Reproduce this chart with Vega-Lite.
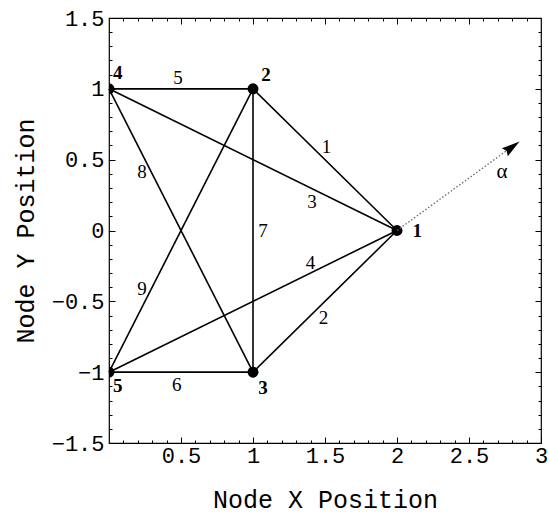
{
  "$schema": "https://vega.github.io/schema/vega-lite/v6.json",
  "width": 432,
  "height": 425,
  "autosize": {"type": "none"},
  "padding": {"left": 109, "top": 18, "right": 9, "bottom": 71},
  "background": "white",
  "config": {
    "view": {"stroke": "black", "strokeWidth": 1.2},
    "axis": {
      "domain": false,
      "grid": false,
      "tickColor": "black",
      "labelColor": "black",
      "labelFont": "Liberation Mono",
      "labelFontSize": 22,
      "titleFont": "Liberation Mono",
      "titleFontSize": 25,
      "titleFontWeight": "normal",
      "titleColor": "black"
    }
  },
  "datasets": {
    "members": [
      {"member": 1, "xa": 2, "ya": 0, "xb": 1, "yb": 1},
      {"member": 2, "xa": 2, "ya": 0, "xb": 1, "yb": -1},
      {"member": 3, "xa": 2, "ya": 0, "xb": 0, "yb": 1},
      {"member": 4, "xa": 2, "ya": 0, "xb": 0, "yb": -1},
      {"member": 5, "xa": 1, "ya": 1, "xb": 0, "yb": 1},
      {"member": 6, "xa": 1, "ya": -1, "xb": 0, "yb": -1},
      {"member": 7, "xa": 1, "ya": 1, "xb": 1, "yb": -1},
      {"member": 8, "xa": 1, "ya": -1, "xb": 0, "yb": 1},
      {"member": 9, "xa": 1, "ya": 1, "xb": 0, "yb": -1}
    ],
    "nodes": [
      {"node": "1", "x": 2, "y": 0, "lx": 2.14, "ly": 0.0},
      {"node": "2", "x": 1, "y": 1, "lx": 1.09, "ly": 1.1},
      {"node": "3", "x": 1, "y": -1, "lx": 1.07, "ly": -1.11},
      {"node": "4", "x": 0, "y": 1, "lx": 0.06, "ly": 1.11},
      {"node": "5", "x": 0, "y": -1, "lx": 0.06, "ly": -1.1}
    ],
    "memberLabels": [
      {"label": "1", "x": 1.51, "y": 0.59},
      {"label": "2", "x": 1.49, "y": -0.62},
      {"label": "3", "x": 1.41, "y": 0.2},
      {"label": "4", "x": 1.4, "y": -0.23},
      {"label": "5", "x": 0.48, "y": 1.08},
      {"label": "6", "x": 0.47, "y": -1.09},
      {"label": "7", "x": 1.07, "y": 0.0},
      {"label": "8", "x": 0.23, "y": 0.41},
      {"label": "9", "x": 0.23, "y": -0.41}
    ],
    "arrow": [
      {"xa": 2, "ya": 0, "xb": 2.79, "yb": 0.585, "hx": 2.8, "hy": 0.59, "label": "α", "tx": 2.73, "ty": 0.41}
    ]
  },
  "resolve": {"axis": {"x": "independent", "y": "independent"}},
  "layer": [
    {
      "data": {"name": "members"},
      "mark": {"type": "rule", "color": "black", "strokeWidth": 1.6},
      "encoding": {
        "x": {
          "field": "xa", "type": "quantitative",
          "scale": {"domain": [0, 3], "nice": false, "zero": false},
          "axis": {"orient": "bottom", "values": [0.5, 1, 1.5, 2, 2.5, 3], "tickSize": -6, "labelPadding": 8, "title": "Node X Position", "titleY": 64, "titleBaseline": "alphabetic", "format": "~g", "labelFlush": false}
        },
        "y": {
          "field": "ya", "type": "quantitative",
          "scale": {"domain": [-1.5, 1.5], "nice": false, "zero": false},
          "axis": {"orient": "left", "values": [-1.5, -1, -0.5, 0, 0.5, 1, 1.5], "tickSize": -6, "labelPadding": 11, "title": "Node Y Position", "titleX": -76, "titleY": 212.5, "titleAlign": "center", "titleBaseline": "alphabetic", "format": "~g", "labelFlush": false}
        },
        "x2": {"field": "xb"},
        "y2": {"field": "yb"}
      }
    },
    {
      "data": {"name": "nodes"},
      "mark": {"type": "point", "filled": true, "color": "black", "size": 120, "opacity": 1, "clip": true},
      "encoding": {
        "x": {
          "field": "x", "type": "quantitative",
          "scale": {"domain": [0, 3], "nice": false, "zero": false},
          "axis": {"orient": "top", "values": [0.5, 1, 1.5, 2, 2.5], "tickSize": -6, "labels": false, "title": null}
        },
        "y": {
          "field": "y", "type": "quantitative",
          "scale": {"domain": [-1.5, 1.5], "nice": false, "zero": false},
          "axis": {"orient": "right", "values": [-1, -0.5, 0, 0.5, 1], "tickSize": -6, "labels": false, "title": null}
        }
      }
    },
    {
      "data": {"name": "nodes"},
      "mark": {"type": "text", "font": "Liberation Serif", "fontWeight": "bold", "fontSize": 19, "color": "black", "align": "center", "baseline": "middle"},
      "encoding": {
        "x": {
          "field": "lx", "type": "quantitative",
          "scale": {"domain": [0, 3], "nice": false, "zero": false},
          "axis": {"orient": "bottom", "values": [0.1, 0.2, 0.3, 0.4, 0.6, 0.7, 0.8, 0.9, 1.1, 1.2, 1.3, 1.4, 1.6, 1.7, 1.8, 1.9, 2.1, 2.2, 2.3, 2.4, 2.6, 2.7, 2.8, 2.9], "tickSize": -3, "labels": false, "title": null}
        },
        "y": {
          "field": "ly", "type": "quantitative",
          "scale": {"domain": [-1.5, 1.5], "nice": false, "zero": false},
          "axis": {"orient": "left", "values": [-1.4, -1.3, -1.2, -1.1, -0.9, -0.8, -0.7, -0.6, -0.4, -0.3, -0.2, -0.1, 0.1, 0.2, 0.3, 0.4, 0.6, 0.7, 0.8, 0.9, 1.1, 1.2, 1.3, 1.4], "tickSize": -3, "labels": false, "title": null}
        },
        "text": {"field": "node"}
      }
    },
    {
      "data": {"name": "memberLabels"},
      "mark": {"type": "text", "font": "Liberation Serif", "fontSize": 19, "color": "black", "align": "center", "baseline": "middle"},
      "encoding": {
        "x": {
          "field": "x", "type": "quantitative",
          "scale": {"domain": [0, 3], "nice": false, "zero": false},
          "axis": {"orient": "top", "values": [0.1, 0.2, 0.3, 0.4, 0.6, 0.7, 0.8, 0.9, 1.1, 1.2, 1.3, 1.4, 1.6, 1.7, 1.8, 1.9, 2.1, 2.2, 2.3, 2.4, 2.6, 2.7, 2.8, 2.9], "tickSize": -3, "labels": false, "title": null}
        },
        "y": {
          "field": "y", "type": "quantitative",
          "scale": {"domain": [-1.5, 1.5], "nice": false, "zero": false},
          "axis": {"orient": "right", "values": [-1.4, -1.3, -1.2, -1.1, -0.9, -0.8, -0.7, -0.6, -0.4, -0.3, -0.2, -0.1, 0.1, 0.2, 0.3, 0.4, 0.6, 0.7, 0.8, 0.9, 1.1, 1.2, 1.3, 1.4], "tickSize": -3, "labels": false, "title": null}
        },
        "text": {"field": "label"}
      }
    },
    {
      "data": {"name": "arrow"},
      "mark": {"type": "rule", "color": "#666666", "strokeWidth": 1.3, "strokeDash": [1.5, 2]},
      "encoding": {
        "x": {"field": "xa", "type": "quantitative", "scale": {"domain": [0, 3], "nice": false, "zero": false}, "axis": null},
        "y": {"field": "ya", "type": "quantitative", "scale": {"domain": [-1.5, 1.5], "nice": false, "zero": false}, "axis": null},
        "x2": {"field": "xb"},
        "y2": {"field": "yb"}
      }
    },
    {
      "data": {"name": "arrow"},
      "mark": {"type": "point", "filled": true, "color": "black", "opacity": 1, "size": 330, "angle": 54, "shape": "M0,-1L0.55,1L0,0.75L-0.55,1Z"},
      "encoding": {
        "x": {"field": "hx", "type": "quantitative", "scale": {"domain": [0, 3], "nice": false, "zero": false}, "axis": null},
        "y": {"field": "hy", "type": "quantitative", "scale": {"domain": [-1.5, 1.5], "nice": false, "zero": false}, "axis": null}
      }
    },
    {
      "data": {"name": "arrow"},
      "mark": {"type": "text", "font": "Liberation Serif", "fontSize": 21, "color": "black", "align": "center", "baseline": "middle"},
      "encoding": {
        "x": {"field": "tx", "type": "quantitative", "scale": {"domain": [0, 3], "nice": false, "zero": false}, "axis": null},
        "y": {"field": "ty", "type": "quantitative", "scale": {"domain": [-1.5, 1.5], "nice": false, "zero": false}, "axis": null},
        "text": {"field": "label"}
      }
    }
  ]
}
